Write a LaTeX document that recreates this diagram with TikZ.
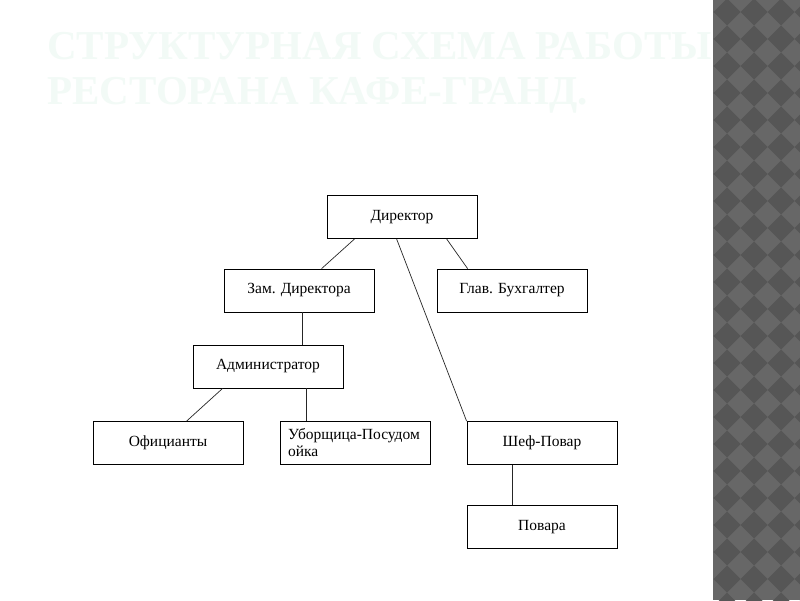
\documentclass[tikz,border=0pt]{standalone}
\usepackage{fontspec}
\setmainfont{Liberation Serif}
\usetikzlibrary{calc}
\definecolor{stripL}{RGB}{103,103,103}
\definecolor{stripD}{RGB}{86,86,86}
\definecolor{titlec}{RGB}{242,250,246}
\tikzset{
  box/.style={draw=black, line width=0.8pt, fill=white, rectangle, inner sep=0pt,
    minimum width=150pt, minimum height=43pt, font=\fontsize{15.5}{16.5}\selectfont},
  conn/.style={draw=black!85, line width=0.7pt},
  titletext/.style={anchor=base west, inner sep=0pt, text=titlec,
    font=\fontsize{41}{45}\selectfont\bfseries}
}
\begin{document}
\begin{tikzpicture}[x=1pt,y=-1pt]
\useasboundingbox (0,0) rectangle (800,600);
\fill[white] (0,0) rectangle (800,600);
% right patterned strip
\fill[stripL] (713,0) rectangle (800,600);
\begin{scope}
\clip (713,0) rectangle (800,600);
\foreach \i in {-1,0,1,2,3}{
  \foreach \j in {-1,0,...,23}{
    \fill[stripD] ({727+27*\i},{12+27*\j-13.5}) -- ++(13.5,13.5) -- ++(-13.5,13.5) -- ++(-13.5,-13.5) -- cycle;
  }
}
\end{scope}
% title
\node[titletext] (t1) at (47,59) {СТРУКТУРНАЯ СХЕМА РАБОТЫ};
\node[titletext] (t2) at (47,104) {РЕСТОРАНА КАФЕ-ГРАНД.};
% boxes
\node[box] (dir) at (402,217) {Директор};
\node[box] (zam) at (299,290.5) {Зам. Директора};
\node[box] (glav) at (512,290.5) {Глав. Бухгалтер};
\node[box] (adm) at (268,366.5) {Администратор};
\node[box] (ofi) at (168,443) {Официанты};
\node[box, text width=134pt, align=left] (ubo) at (355,443) {Уборщица-Посудом\\[0.5pt]ойка};
\node[box] (shef) at (542,443) {Шеф-Повар};
\node[box] (pov) at (542,527) {Повара};
% connectors
\draw[conn] ([xshift=28pt]dir.south west) -- ([xshift=98pt]zam.north west);
\draw[conn] ([xshift=120pt]dir.south west) -- ([xshift=31pt]glav.north west);
\draw[conn] ([xshift=70pt]dir.south west) -- (shef.north west);
\draw[conn] ([xshift=79pt]zam.south west) -- ([xshift=110pt]adm.north west);
\draw[conn] ([xshift=30pt]adm.south west) -- ([xshift=94pt]ofi.north west);
\draw[conn] ([xshift=114pt]adm.south west) -- ([xshift=27pt]ubo.north west);
\draw[conn] ([xshift=46pt]shef.south west) -- ([xshift=46pt]pov.north west);
\end{tikzpicture}
\end{document}
